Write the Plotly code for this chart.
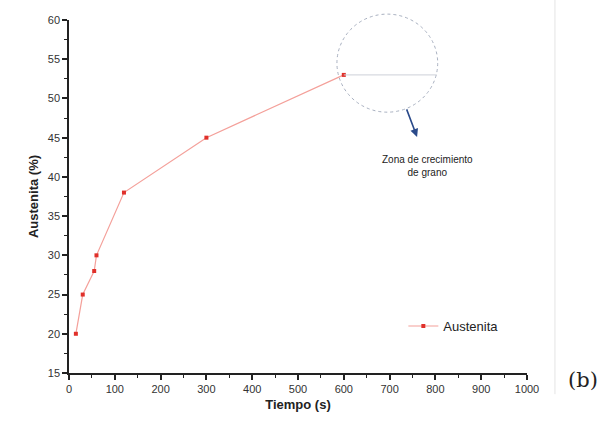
import plotly.graph_objects as go

tiempo = [15, 30, 55, 60, 120, 300, 600]
austenita = [20, 25, 28, 30, 38, 45, 53]
x_ticks = [0, 100, 200, 300, 400, 500, 600, 700, 800, 900, 1000]
y_ticks = [15, 20, 25, 30, 35, 40, 45, 50, 55, 60]
y_range = [15, 60]

fig = go.Figure()
fig.add_trace(go.Scatter(
    x=tiempo, y=austenita, mode="lines+markers", name="Austenita",
    line=dict(color="#f4a09a", width=1.2),
    marker=dict(color="#e0302a", size=4, symbol="square"),
))

def to_paper_y(v):
    return (v - y_range[0]) / (y_range[1] - y_range[0])

# dotted circle (grain growth zone) - y in paper coords so it is not clipped at the top
cx, cy, rx, ry = 695, 54.5, 110, 6.25
fig.add_shape(type="circle", xref="x", yref="paper",
              x0=cx - rx, x1=cx + rx, y0=to_paper_y(cy - ry), y1=to_paper_y(cy + ry),
              line=dict(color="#a8b0c0", width=1, dash="dot"))
fig.add_shape(type="line", xref="x", yref="y", x0=600, y0=53, x1=803, y1=53,
              line=dict(color="#cdd0d8", width=1))
fig.add_annotation(x=760, y=45.1, ax=736, ay=48.8, xref="x", yref="y", axref="x", ayref="y",
                   showarrow=True, arrowhead=2, arrowsize=1, arrowwidth=1.6,
                   arrowcolor="#2a4a8a", text="")
fig.add_annotation(x=783, y=41.4, xref="x", yref="y", showarrow=False,
                   text="Zona de crecimiento<br>de grano",
                   font=dict(family="Liberation Sans, Arial", size=10, color="#222"))
fig.add_annotation(x=1.122, y=-0.02, xref="paper", yref="paper", xanchor="center", yanchor="middle",
                   showarrow=False, text="(b)",
                   font=dict(family="DejaVu Serif, Liberation Serif", size=21, color="#222"))
fig.add_shape(type="line", xref="paper", yref="paper", x0=1.061, x1=1.061, y0=-0.06, y1=1.06,
              line=dict(color="#e4e4e4", width=1))

axis_common = dict(showline=True, linecolor="#222", linewidth=1.5, ticks="outside",
                   ticklen=5, tickwidth=1.5, tickcolor="#222", showgrid=False, zeroline=False,
                   tickfont=dict(family="Liberation Sans, Arial", size=11, color="#333"),
                   minor=dict(ticks="outside", ticklen=3, tickcolor="#222", tickwidth=1))

fig.update_xaxes(range=[0, 1000], tickvals=x_ticks, title=dict(text="<b>Tiempo (s)</b>", standoff=6,
                 font=dict(family="Liberation Sans, Arial", size=13, color="#222")), **axis_common)
fig.update_yaxes(range=y_range, tickvals=y_ticks, title=dict(text="<b>Austenita (%)</b>", standoff=6,
                 font=dict(family="Liberation Sans, Arial", size=13, color="#222")), **axis_common)
fig.update_xaxes(minor=dict(dtick=50))
fig.update_yaxes(minor=dict(dtick=2.5))

fig.update_layout(
    width=603, height=426, margin=dict(l=69, r=76, t=20, b=53),
    plot_bgcolor="white", paper_bgcolor="white",
    legend=dict(x=0.73, y=0.133, xanchor="left", yanchor="middle", bgcolor="rgba(0,0,0,0)",
                font=dict(family="Liberation Sans, Arial", size=13, color="#222")),
    showlegend=True,
)
fig.write_html("out.html")
